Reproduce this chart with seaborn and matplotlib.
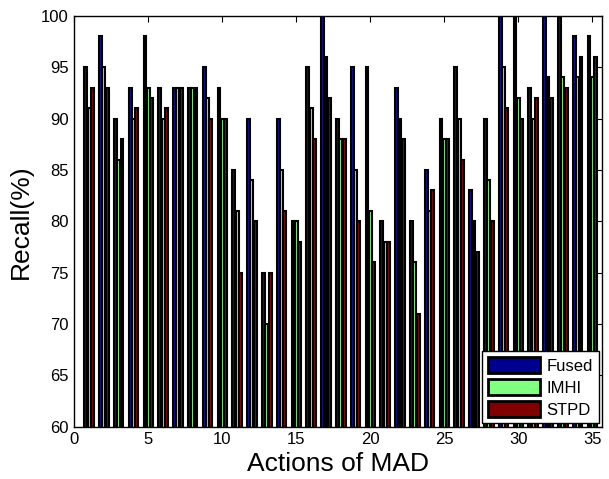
import numpy as np
import pandas as pd
import matplotlib
matplotlib.use("Agg")
import matplotlib.pyplot as plt
import seaborn as sns
from matplotlib.patches import Patch

actions = list(range(1, 36))
series_names = ["Fused", "IMHI", "STPD"]
fused = [95, 98, 90, 93, 98, 93, 93, 93, 95, 93, 85, 90, 75, 90, 80, 95, 100, 90, 95, 95,
         80, 93, 80, 85, 90, 95, 83, 90, 100, 100, 93, 100, 100, 98, 98]
imhi = [91, 95, 86, 90, 93, 90, 93, 93, 92, 90, 81, 84, 70, 85, 80, 91, 96, 88, 85, 81,
        78, 90, 76, 81, 88, 90, 80, 84, 95, 92, 90, 94, 94, 94, 94]
stpd = [93, 93, 88, 91, 92, 91, 93, 93, 90, 90, 75, 80, 75, 81, 78, 88, 92, 88, 80, 76,
        78, 88, 71, 83, 88, 86, 77, 80, 91, 90, 92, 92, 93, 96, 96]
colors = ["#00008F", "#80FF80", "#800000"]
xticks = [0, 5, 10, 15, 20, 25, 30, 35]
yticks = [60, 65, 70, 75, 80, 85, 90, 95, 100]

df = pd.DataFrame({
    "action": actions * 3,
    "recall": fused + imhi + stpd,
    "method": sum([[n] * len(actions) for n in series_names], []),
})

sns.set_style("white")
plt.rcParams["font.family"] = ["Liberation Sans", "DejaVu Sans"]
plt.rcParams["text.color"] = "black"
plt.rcParams["axes.labelcolor"] = "black"
plt.rcParams["xtick.color"] = "black"
plt.rcParams["ytick.color"] = "black"

fig = plt.figure(figsize=(6.09, 4.79), dpi=100)
ax = fig.add_axes([0.122, 0.109, 0.8665, 0.858])

sns.barplot(data=df, x="action", y="recall", hue="method", hue_order=series_names,
            palette=colors, native_scale=True, width=0.68, gap=0.15,
            edgecolor="black", linewidth=1.5, errorbar=None, ax=ax, legend=False)

ax.set_xlim(0, 35.65)
ax.set_ylim(60, 100)
ax.set_xticks(xticks)
ax.set_xticklabels([str(t) for t in xticks])
ax.set_yticks(yticks)
ax.set_yticklabels([str(t) for t in yticks])
ax.tick_params(direction="in", top=True, right=True, length=4, width=0.8,
               labelsize=12, colors="black", labelcolor="black", pad=4)
for s in ax.spines.values():
    s.set_visible(True)
    s.set_color("black")
    s.set_linewidth(1.0)

ax.set_xlabel("Actions of MAD", fontsize=19, labelpad=3, color="black")
ax.set_ylabel("Recall(%)", fontsize=19, labelpad=6, color="black")

handles = [Patch(facecolor=c, edgecolor="black", linewidth=2.0, label=n)
           for c, n in zip(colors, series_names)]
leg = ax.legend(handles=handles, loc="lower right", fontsize=12, frameon=True,
                fancybox=False, edgecolor="black", framealpha=1,
                handlelength=3.1, handleheight=1.15, handletextpad=0.4,
                borderpad=0.35, labelspacing=0.3, borderaxespad=0.2,
                labelcolor="black")
leg.get_frame().set_linewidth(1.0)

fig.savefig("out.png", dpi=100)
